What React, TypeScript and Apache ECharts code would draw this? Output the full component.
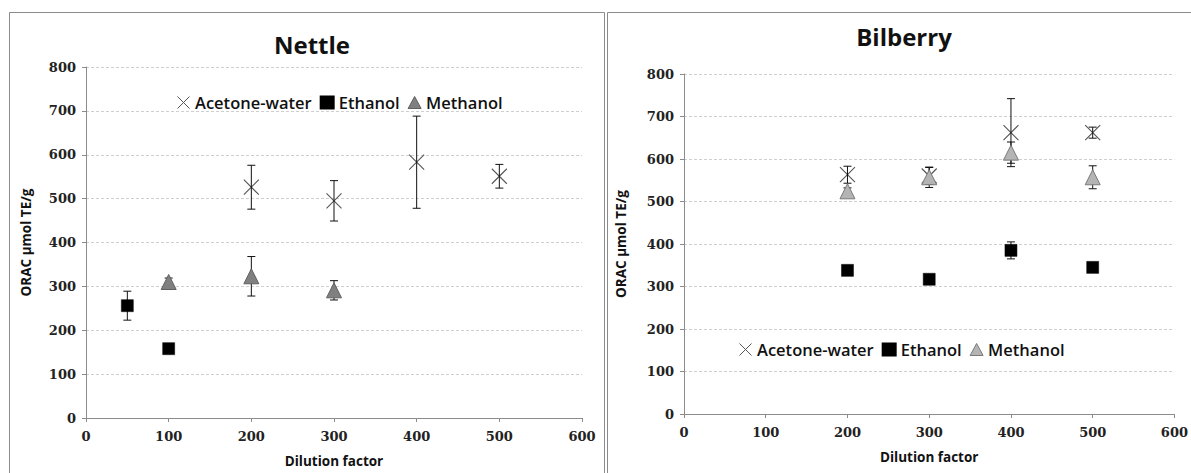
import React, { useEffect, useRef } from "react";
import * as echarts from "echarts";

// ---- data ----
const xTickValues = [0, 100, 200, 300, 400, 500, 600];
const yTickValues = [0, 100, 200, 300, 400, 500, 600, 700, 800];
const seriesNames = ["Acetone-water", "Ethanol", "Methanol"];

const nettleAcetoneX = [200, 300, 400, 500];
const nettleAcetoneY = [526, 495, 583, 551];
const nettleAcetoneErr = [50, 46, 105, 27];
const nettleEthanolX = [50, 100];
const nettleEthanolY = [256, 158];
const nettleEthanolErr = [33, 5];
const nettleMethanolX = [100, 200, 300];
const nettleMethanolY = [310, 323, 291];
const nettleMethanolErr = [9, 45, 22];

const bilberryAcetoneX = [200, 300, 400, 500];
const bilberryAcetoneY = [563, 560, 662, 662];
const bilberryAcetoneErr = [20, 20, 80, 13];
const bilberryEthanolX = [200, 300, 400, 500];
const bilberryEthanolY = [338, 317, 385, 345];
const bilberryEthanolErr = [10, 5, 20, 8];
const bilberryMethanolX = [200, 300, 400, 500];
const bilberryMethanolY = [524, 557, 615, 557];
const bilberryMethanolErr = [8, 24, 25, 27];

const X_PATH = "path://M0,0L10,10M10,0L0,10";

const pts = (xs: number[], ys: number[]) => xs.map((x, i) => [x, ys[i]]);
const errs = (xs: number[], ys: number[], es: number[]) =>
  xs.map((x, i) => [x, ys[i] - es[i], ys[i] + es[i]]);

const errRender = (params: any, api: any) => {
  const x = api.value(0);
  const lo = api.coord([x, api.value(1)]);
  const hi = api.coord([x, api.value(2)]);
  const w = 4;
  const style = { stroke: "#111", lineWidth: 1 };
  return {
    type: "group",
    children: [
      { type: "line", shape: { x1: lo[0], y1: lo[1], x2: hi[0], y2: hi[1] }, style },
      { type: "line", shape: { x1: hi[0] - w, y1: hi[1], x2: hi[0] + w, y2: hi[1] }, style },
      { type: "line", shape: { x1: lo[0] - w, y1: lo[1], x2: lo[0] + w, y2: lo[1] }, style },
    ],
  };
};

const axisFont = { fontFamily: "DejaVu Serif", fontWeight: 700 as any, fontSize: 13, color: "#222" };
const nameFont = { fontFamily: "Open Sans", fontWeight: 700 as any, fontSize: 13.5, color: "#111" };

function makeXAxis(gridIndex: number) {
  return {
    type: "value",
    gridIndex,
    min: xTickValues[0],
    max: xTickValues[xTickValues.length - 1],
    interval: 100,
    name: "Dilution factor",
    nameLocation: "middle",
    nameGap: 36,
    nameTextStyle: nameFont,
    axisLine: { show: true, lineStyle: { color: "#8c8c8c", width: 1 } },
    axisTick: { show: true, length: 4, lineStyle: { color: "#8c8c8c" } },
    axisLabel: { ...axisFont, margin: 12 },
    splitLine: { show: false },
  };
}

function makeYAxis(gridIndex: number, gap: number) {
  return {
    type: "value",
    gridIndex,
    min: yTickValues[0],
    max: yTickValues[yTickValues.length - 1],
    interval: 100,
    name: "ORAC µmol TE/g",
    nameLocation: "middle",
    nameGap: gap,
    nameTextStyle: nameFont,
    axisLine: { show: true, lineStyle: { color: "#8c8c8c", width: 1 } },
    axisTick: { show: true, length: 4, lineStyle: { color: "#8c8c8c" } },
    axisLabel: { ...axisFont, margin: 10 },
    splitLine: { show: true, lineStyle: { color: "#cfcfcf", type: [3, 2], width: 1 } },
  };
}

function panelSeries(
  idx: number,
  a: [number[], number[], number[]],
  e: [number[], number[], number[]],
  m: [number[], number[], number[]],
  triFill: string,
  triBorder: string
) {
  const errSeries = (tag: string, d: [number[], number[], number[]]) => ({
    name: "err-" + tag + "-" + idx,
    type: "custom",
    xAxisIndex: idx,
    yAxisIndex: idx,
    renderItem: errRender,
    encode: { x: 0, y: [1, 2] },
    data: errs(d[0], d[1], d[2]),
    z: 3,
  });
  return [
    {
      name: seriesNames[0],
      type: "scatter",
      xAxisIndex: idx,
      yAxisIndex: idx,
      symbol: X_PATH,
      symbolSize: 15,
      itemStyle: { color: "rgba(0,0,0,0)", borderColor: "#555", borderWidth: 1.1, opacity: 1 },
      data: pts(a[0], a[1]),
      z: 2,
    },
    errSeries("a", a),
    errSeries("e", e),
    errSeries("m", m),
    {
      name: seriesNames[1],
      type: "scatter",
      xAxisIndex: idx,
      yAxisIndex: idx,
      symbol: "rect",
      symbolSize: 12,
      itemStyle: { color: "#000", borderColor: "#000", borderWidth: 0.5, opacity: 1 },
      data: pts(e[0], e[1]),
      z: 4,
    },
    {
      name: seriesNames[2],
      type: "scatter",
      xAxisIndex: idx,
      yAxisIndex: idx,
      symbol: "triangle",
      symbolSize: [15, 15],
      itemStyle: { color: triFill, borderColor: triBorder, borderWidth: 1, opacity: 1 },
      data: pts(m[0], m[1]),
      z: 4,
    },
  ];
}

function legendData(triFill: string, triBorder: string) {
  return [
    {
      name: seriesNames[0],
      icon: X_PATH,
      itemStyle: { color: "rgba(0,0,0,0)", borderColor: "#555", borderWidth: 1, opacity: 1 },
    },
    { name: seriesNames[1], icon: "rect", itemStyle: { color: "#000", opacity: 1 } },
    {
      name: seriesNames[2],
      icon: "triangle",
      itemStyle: { color: triFill, borderColor: triBorder, borderWidth: 1, opacity: 1 },
    },
  ];
}

const legendText = { fontFamily: "Open Sans", fontWeight: 600 as any, fontSize: 16.5, color: "#111" };

export default function App() {
  const ref = useRef<HTMLDivElement>(null);
  useEffect(() => {
    const chart = echarts.init(ref.current!, null, { renderer: "svg" });
    const option: any = {
      animation: false,
      backgroundColor: "#fff",
      title: [
        {
          text: "Nettle",
          left: 307,
          textAlign: "center",
          top: 27,
          textStyle: { fontFamily: "Open Sans", fontWeight: 700, fontSize: 24, color: "#111" },
        },
        {
          text: "Bilberry",
          left: 899,
          textAlign: "center",
          top: 19,
          textStyle: { fontFamily: "Open Sans", fontWeight: 700, fontSize: 24, color: "#111" },
        },
      ],
      legend: [
        {
          left: 172,
          top: 89,
          data: legendData("#808080", "#606060"),
          itemWidth: 13,
          itemHeight: 12,
          itemGap: 8,
          selectedMode: false,
          textStyle: legendText,
        },
        {
          left: 734,
          top: 336,
          data: legendData("#b4b4b4", "#7a7a7a"),
          itemWidth: 13,
          itemHeight: 12,
          itemGap: 8,
          selectedMode: false,
          textStyle: legendText,
        },
      ],
      grid: [
        { left: 86, top: 67, width: 496, height: 351 },
        { left: 684, top: 74, width: 497, height: 340 },
      ],
      xAxis: [makeXAxis(0), makeXAxis(1)],
      yAxis: [makeYAxis(0, 53), makeYAxis(1, 56)],
      graphic: [
        {
          type: "rect",
          shape: { x: 9.5, y: 12.5, width: 595, height: 480 },
          style: { fill: "none", stroke: "#8c8c8c", lineWidth: 1 },
          silent: true,
          z: -10,
        },
        {
          type: "rect",
          shape: { x: 607.5, y: 12.5, width: 600, height: 480 },
          style: { fill: "none", stroke: "#8c8c8c", lineWidth: 1 },
          silent: true,
          z: -10,
        },
      ],
      series: [
        ...panelSeries(
          0,
          [nettleAcetoneX, nettleAcetoneY, nettleAcetoneErr],
          [nettleEthanolX, nettleEthanolY, nettleEthanolErr],
          [nettleMethanolX, nettleMethanolY, nettleMethanolErr],
          "#808080",
          "#606060"
        ),
        ...panelSeries(
          1,
          [bilberryAcetoneX, bilberryAcetoneY, bilberryAcetoneErr],
          [bilberryEthanolX, bilberryEthanolY, bilberryEthanolErr],
          [bilberryMethanolX, bilberryMethanolY, bilberryMethanolErr],
          "#b4b4b4",
          "#7a7a7a"
        ),
      ],
    };
    chart.setOption(option);
    return () => chart.dispose();
  }, []);
  return (
    <div
      ref={ref}
      style={{ position: "absolute", left: 0, top: 0, width: 1191, height: 473, background: "#fff" }}
    />
  );
}
